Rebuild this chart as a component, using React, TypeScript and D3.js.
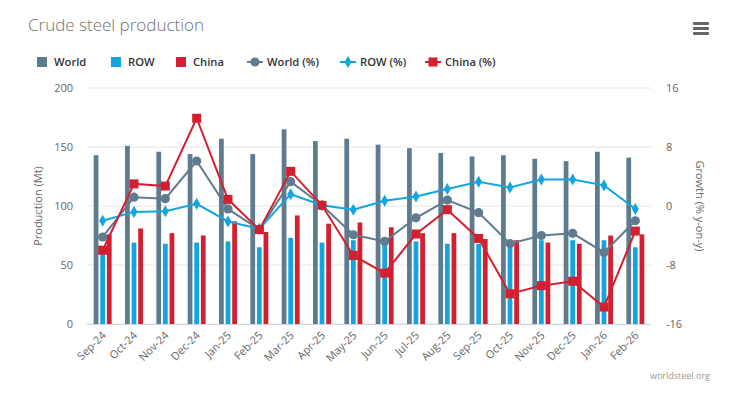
import { scaleLinear, scaleBand, line, symbol, symbolDiamond } from "d3";

const months = [
  "Sep-24", "Oct-24", "Nov-24", "Dec-24", "Jan-25", "Feb-25", "Mar-25", "Apr-25", "May-25",
  "Jun-25", "Jul-25", "Aug-25", "Sep-25", "Oct-25", "Nov-25", "Dec-25", "Jan-26", "Feb-26",
];

const worldProd = [143, 151, 146, 144, 157, 144, 165, 155, 157, 152, 149, 145, 142, 143, 140, 138, 146, 141];
const rowProd = [62, 69, 68, 69, 70, 65, 73, 69, 71, 69, 70, 68, 68, 71, 71, 71, 71, 65];
const chinaProd = [76, 81, 77, 75, 87, 78, 92, 85, 86, 82, 77, 77, 72, 71, 69, 68, 75, 76];

const worldGrowth = [-4.2, 1.2, 1.0, 6.1, -0.4, -3.2, 3.3, 0.1, -3.9, -4.8, -1.6, 0.8, -0.9, -5.1, -4.0, -3.7, -6.3, -2.0];
const rowGrowth = [-2.0, -0.8, -0.7, 0.3, -2.1, -3.1, 1.6, 0.1, -0.5, 0.7, 1.3, 2.3, 3.3, 2.5, 3.6, 3.6, 2.8, -0.4];
const chinaGrowth = [-6.0, 3.0, 2.7, 11.9, 0.9, -3.2, 4.7, 0.1, -6.7, -9.1, -3.8, -0.5, -4.4, -11.9, -10.8, -10.2, -13.7, -3.4];

const leftTicks = [0, 50, 100, 150, 200];
const rightTicks = [-16, -8, 0, 8, 16];

const WORLD = "#5f7b8e";
const ROW = "#12a5e0";
const CHINA = "#d31f2f";
const FONT = "'Open Sans', 'DejaVu Sans', sans-serif";

const width = 735;
const height = 393;
const plot = { left: 87, right: 651, top: 88, bottom: 324 };

export default function App() {
  const x = scaleBand<string>().domain(months).range([plot.left, plot.right]);
  const inner = scaleBand<string>()
    .domain(["world", "row", "china"])
    .range([-9.3, 9.3])
    .paddingInner(0.28)
    .paddingOuter(0.05);
  const yLeft = scaleLinear().domain([0, 200]).range([plot.bottom, plot.top]);
  const yRight = scaleLinear().domain([-16, 16]).range([plot.bottom, plot.top]);
  const cx = (i: number) => (x(months[i]) ?? 0) + x.bandwidth() / 2;

  const growthLine = line<number>()
    .x((_, i) => cx(i))
    .y((d) => yRight(d));

  const barSeries = [
    { key: "world", values: worldProd, color: WORLD },
    { key: "row", values: rowProd, color: ROW },
    { key: "china", values: chinaProd, color: CHINA },
  ];

  const diamond = symbol().type(symbolDiamond).size(42)() ?? "";

  const marker = (kind: string, px: number, py: number, color: string, key: string) => {
    if (kind === "circle") return <circle key={key} cx={px} cy={py} r={4.6} fill={color} />;
    if (kind === "diamond")
      return <path key={key} d={diamond} transform={`translate(${px},${py})`} fill={color} />;
    return <rect key={key} x={px - 4.5} y={py - 4.5} width={9} height={9} fill={color} />;
  };

  const lineSeries = [
    { key: "wg", values: worldGrowth, color: WORLD, kind: "circle" },
    { key: "rg", values: rowGrowth, color: ROW, kind: "diamond" },
    { key: "cg", values: chinaGrowth, color: CHINA, kind: "square" },
  ];

  const legend = [
    { label: "World", x: 37, color: WORLD, kind: "box" },
    { label: "ROW", x: 111, color: ROW, kind: "box" },
    { label: "China", x: 176, color: CHINA, kind: "box" },
    { label: "World (%)", x: 247, color: WORLD, kind: "circle" },
    { label: "ROW (%)", x: 340, color: ROW, kind: "diamond" },
    { label: "China (%)", x: 425, color: CHINA, kind: "square" },
  ];

  return (
    <svg
      width={width}
      height={height}
      viewBox={`0 0 ${width} ${height}`}
      style={{ position: "absolute", left: 0, top: 0, background: "#fff", fontFamily: FONT }}
    >
      <text x={28} y={31} fontSize={17} fontWeight={300} fill="#707070">
        Crude steel production
      </text>

      {/* hamburger */}
      {[0, 5, 10].map((d) => (
        <rect key={d} x={693} y={22 + d} width={16} height={3} rx={1} fill="#666" />
      ))}

      {/* legend */}
      {legend.map((l) => (
        <g key={l.label} transform={`translate(${l.x},62)`}>
          {l.kind === "box" ? (
            <rect x={0} y={-5} width={10} height={10} fill={l.color} />
          ) : (
            <>
              <line x1={0} x2={16} y1={0} y2={0} stroke={l.color} strokeWidth={2} />
              {marker(l.kind, 8, 0, l.color, "m")}
            </>
          )}
          <text
            x={l.kind === "box" ? 17 : 20}
            y={4}
            fontSize={11.2}
            fontWeight={600}
            fill="#333"
          >
            {l.label}
          </text>
        </g>
      ))}

      {/* grid */}
      {leftTicks.map((t) => (
        <line key={t} x1={plot.left} x2={plot.right} y1={yLeft(t)} y2={yLeft(t)} stroke="#e6e6e6" />
      ))}
      <line x1={plot.left} x2={plot.right} y1={plot.bottom + 0.5} y2={plot.bottom + 0.5} stroke="#ccd6eb" />

      {leftTicks.map((t) => (
        <text key={t} x={73} y={yLeft(t) + 4} fontSize={11} fill="#666" textAnchor="end">
          {t}
        </text>
      ))}
      {rightTicks.map((t) => (
        <text key={t} x={666} y={yRight(t) + 4} fontSize={11} fill="#666">
          {t}
        </text>
      ))}
      <text
        transform={`translate(42,${(plot.top + plot.bottom) / 2}) rotate(-90)`}
        fontSize={11}
        fill="#666"
        textAnchor="middle"
      >
        Production (Mt)
      </text>
      <text
        transform={`translate(696,${(plot.top + plot.bottom) / 2}) rotate(90)`}
        fontSize={11}
        fill="#666"
        textAnchor="middle"
      >
        Growth (% y-on-y)
      </text>

      {/* x labels */}
      {months.map((m, i) => (
        <text
          key={m}
          transform={`translate(${cx(i) + 4},${plot.bottom + 12}) rotate(-45)`}
          fontSize={11}
          fill="#666"
          textAnchor="end"
        >
          {m}
        </text>
      ))}

      {/* bars */}
      {barSeries.map((s) =>
        s.values.map((v, i) => (
          <rect
            key={s.key + i}
            x={cx(i) + (inner(s.key) ?? 0)}
            y={yLeft(v)}
            width={inner.bandwidth()}
            height={plot.bottom - yLeft(v)}
            fill={s.color}
          />
        ))
      )}

      {/* growth lines */}
      {lineSeries.map((s) => (
        <g key={s.key}>
          <path d={growthLine(s.values) ?? ""} fill="none" stroke={s.color} strokeWidth={2} />
          {s.values.map((v, i) => marker(s.kind, cx(i), yRight(v), s.color, s.key + i))}
        </g>
      ))}

      <text x={710} y={379} fontSize={9} fill="#999" textAnchor="end">
        worldsteel.org
      </text>
    </svg>
  );
}
